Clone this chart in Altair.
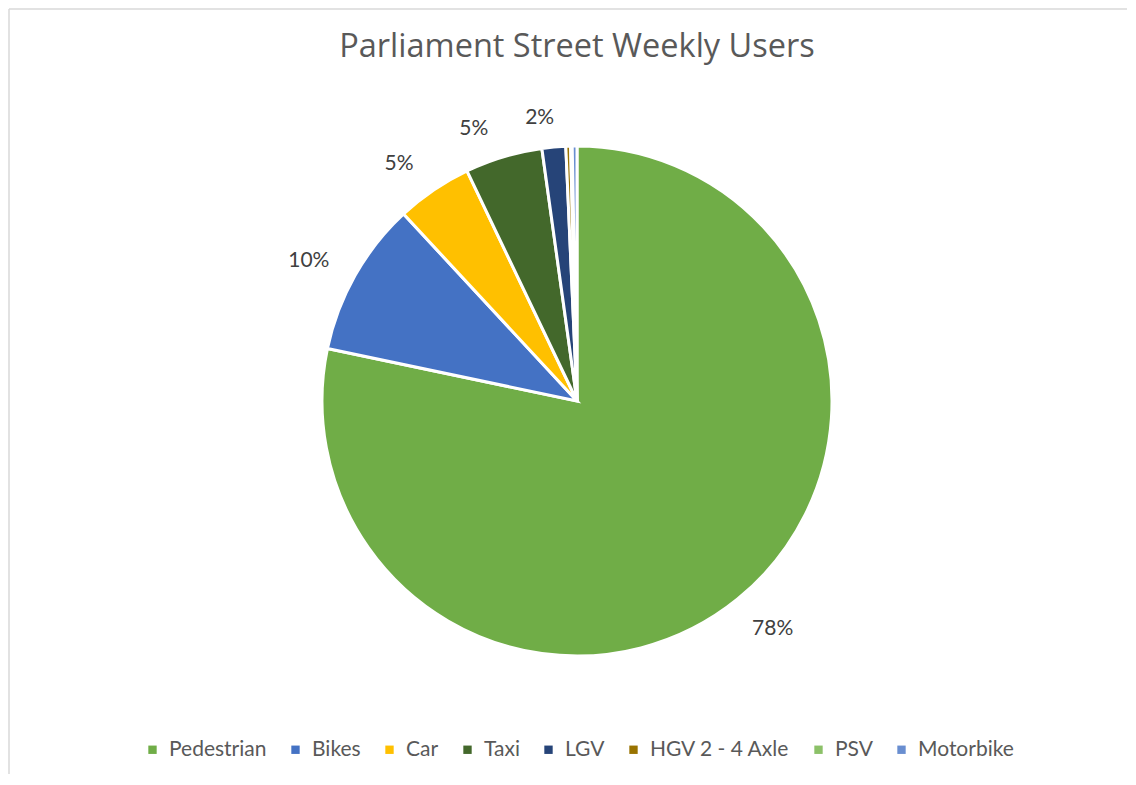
import altair as alt
import pandas as pd

categories = ["Pedestrian", "Bikes", "Car", "Taxi", "LGV", "HGV 2 - 4 Axle", "PSV", "Motorbike"]
values = [78.3, 9.8, 4.8, 4.9, 1.5, 0.3, 0.1, 0.3]
labels = ["78%", "10%", "5%", "5%", "2%", "", "", ""]
colors = ["#70AD47", "#4472C4", "#FFC000", "#43682B", "#264478", "#997300", "#8CC168", "#698ED0"]

df = pd.DataFrame({
    "cat": categories,
    "value": values,
    "label": labels,
    "order": list(range(len(categories))),
})

FONT = "Lato"
W, H = 1118, 765
CX, CY = 568, 392
R = 255

base = alt.Chart(df)

pie = base.mark_arc(stroke="white", strokeWidth=3).encode(
    theta=alt.Theta("value:Q", stack=True),
    order=alt.Order("order:Q", sort="ascending"),
    x=alt.value(CX), y=alt.value(CY), radius=alt.value(R),
    color=alt.Color(
        "cat:N",
        scale=alt.Scale(domain=categories, range=colors),
        sort=categories,
        legend=alt.Legend(
            title=None, orient="none", direction="horizontal", columns=8,
            legendX=133, legendY=730, symbolType="square", symbolSize=70,
            labelFont=FONT, labelFontSize=21, labelColor="#595959",
            columnPadding=18, symbolOffset=0, labelOffset=6, symbolStrokeWidth=0,
        ),
    ),
)

text = base.transform_window(
    cum="sum(value)", sort=[alt.SortField("order")], frame=[None, 0]
).transform_joinaggregate(
    total="sum(value)"
).transform_calculate(
    mid="2*PI*(datum.cum - datum.value/2)/datum.total"
).mark_text(
    font=FONT, fontSize=21, color="#404040",
    align=alt.expr("sin(datum.mid) >= 0 ? 'left' : 'right'"),
    baseline=alt.expr("cos(datum.mid) >= 0 ? 'bottom' : 'top'"),
    dx=alt.expr("sin(datum.mid) < -0.2 ? -10 : (sin(datum.mid) > 0 ? 3 : 2)"),
    dy=alt.expr("cos(datum.mid) < 0 ? 5 : (cos(datum.mid) < 0.6 ? 5 : -1)"),
).encode(
    x=alt.value(CX), y=alt.value(CY),
    theta=alt.Theta("mid:Q", scale=None, stack=False),
    radius=alt.value(R + 18),
    text="label:N",
)

one = pd.DataFrame({"k": [0]})
title = alt.Chart(one).mark_text(
    font="Open Sans", fontSize=32.5, color="#595959", baseline="alphabetic"
).encode(
    x=alt.value(CX), y=alt.value(48), text=alt.value("Parliament Street Weekly Users"),
)

left = alt.Chart(one).mark_rule(color="#d9d9d9", strokeWidth=1.5).encode(
    x=alt.value(0), y=alt.value(0), y2=alt.value(H)
)
top = alt.Chart(one).mark_rule(color="#d9d9d9", strokeWidth=1.5).encode(
    x=alt.value(0), x2=alt.value(W), y=alt.value(0)
)

chart = alt.layer(left, top, pie, text, title).properties(
    width=W, height=H, padding=0
).configure_view(stroke=None)

chart.save("out.html", embed_options={"renderer": "svg", "actions": False})
